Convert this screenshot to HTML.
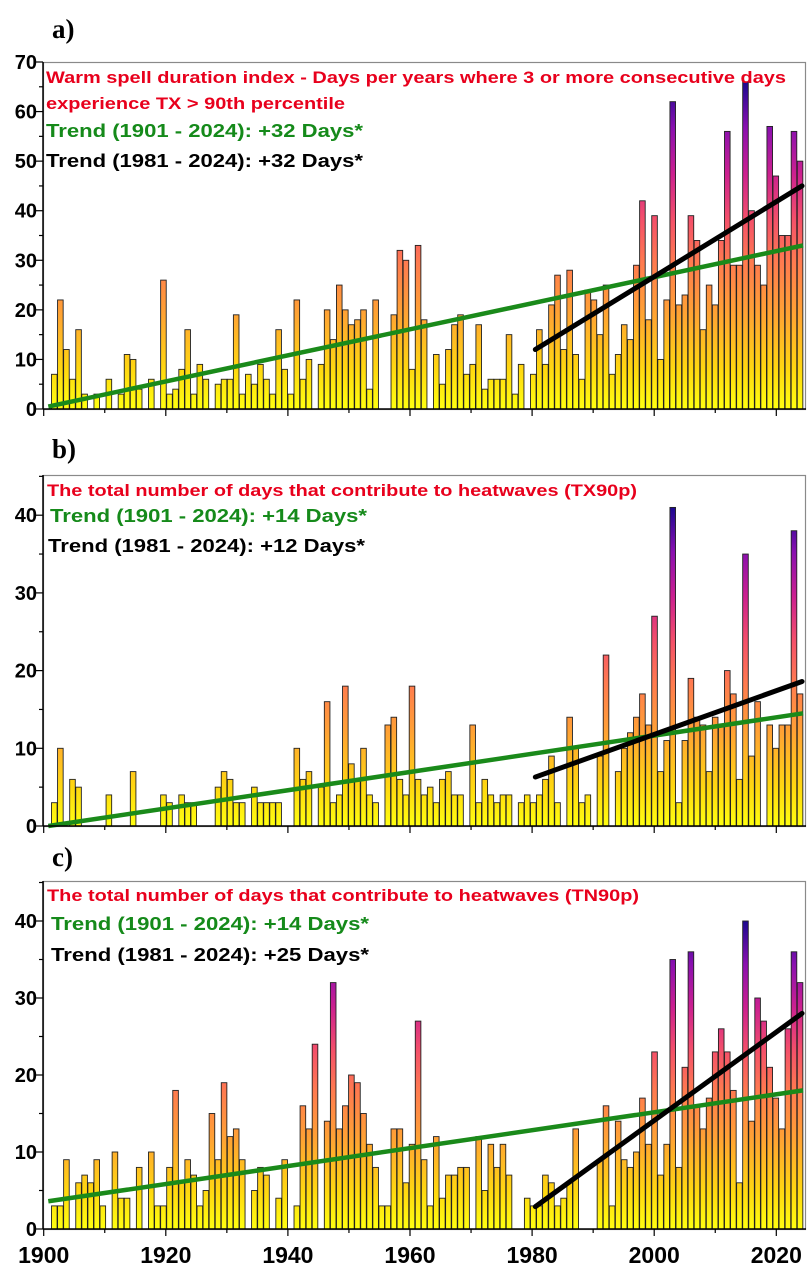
<!DOCTYPE html>
<html><head><meta charset="utf-8">
<style>
html,body{margin:0;padding:0;background:#fff;}
svg{display:block;}
text{font-family:"Liberation Sans",Arial,sans-serif;font-weight:bold;}
.lbl{font-family:"Liberation Serif",serif;font-size:27px;font-weight:bold;}
</style></head>
<body>
<svg id="chart" width="809" height="1266" viewBox="0 0 809 1266" xmlns="http://www.w3.org/2000/svg">
<defs>
<linearGradient id="gA" gradientUnits="userSpaceOnUse" x1="0" y1="409" x2="0" y2="82"></linearGradient>
<linearGradient id="gB" gradientUnits="userSpaceOnUse" x1="0" y1="826" x2="0" y2="507"></linearGradient>
<linearGradient id="gC" gradientUnits="userSpaceOnUse" x1="0" y1="1229" x2="0" y2="921"></linearGradient>
</defs>
<text class="lbl" x="52" y="38">a)</text>
<text class="lbl" x="52" y="458">b)</text>
<text class="lbl" x="52" y="866">c)</text>
<g id="layer"></g>
<g>
<text x="46" y="83" fill="#e8001c" font-size="17" textLength="740" lengthAdjust="spacingAndGlyphs">Warm spell duration index - Days per years where 3 or more consecutive days</text>
<text x="46" y="109" fill="#e8001c" font-size="17" textLength="299" lengthAdjust="spacingAndGlyphs">experience TX &gt; 90th percentile</text>
<text x="46" y="137" fill="#158a1a" font-size="18" textLength="317" lengthAdjust="spacingAndGlyphs">Trend (1901 - 2024): +32 Days*</text>
<text x="46" y="167" fill="#000" font-size="18" textLength="317" lengthAdjust="spacingAndGlyphs">Trend (1981 - 2024): +32 Days*</text>
</g>
<g>
<text x="47" y="496" fill="#e8001c" font-size="17" textLength="590" lengthAdjust="spacingAndGlyphs">The total number of days that contribute to heatwaves (TX90p)</text>
<text x="50" y="522" fill="#158a1a" font-size="18" textLength="317" lengthAdjust="spacingAndGlyphs">Trend (1901 - 2024): +14 Days*</text>
<text x="48" y="552" fill="#000" font-size="18" textLength="317" lengthAdjust="spacingAndGlyphs">Trend (1981 - 2024): +12 Days*</text>
</g>
<g>
<text x="47" y="901" fill="#e8001c" font-size="17" textLength="592" lengthAdjust="spacingAndGlyphs">The total number of days that contribute to heatwaves (TN90p)</text>
<text x="51" y="930" fill="#158a1a" font-size="18" textLength="318" lengthAdjust="spacingAndGlyphs">Trend (1901 - 2024): +14 Days*</text>
<text x="51" y="961" fill="#000" font-size="18" textLength="318" lengthAdjust="spacingAndGlyphs">Trend (1981 - 2024): +25 Days*</text>
</g>
</svg>
<script>
const firstYear = 1901;
const valuesA = [7,22,12,6,16,3,0,3,0,6, 0,3,11,10,4,0,6,0,26,3, 4,8,16,3,9,6,0,5,6,6, 19,3,7,5,9,6,3,16,8,3,
 22,6,10,0,9,20,14,25,20,17, 18,20,4,22,0,0,19,32,30,8, 33,18,0,11,5,12,17,19,7,9, 17,4,6,6,6,15,3,9,0,7,
 16,9,21,27,12,28,11,6,24,22, 15,25,7,11,17,14,29,42,18,39, 10,22,62,21,23,39,34,16,25,21, 34,56,29,29,66,40,29,25,57,47, 35,35,56,50];
const valuesB = [3,10,0,6,5,0,0,0,0,4, 0,0,0,7,0,0,0,0,4,3, 0,4,3,3,0,0,0,5,7,6, 3,3,0,5,3,3,3,3,0,0,
 10,6,7,0,5,16,3,4,18,8, 6,10,4,3,0,13,14,6,4,18, 6,4,5,3,6,7,4,4,0,13, 3,6,4,3,4,4,0,3,4,3,
 4,6,9,3,0,14,10,3,4,0, 9,22,0,7,10,12,14,17,13,27, 7,11,41,3,11,19,14,13,7,14, 13,20,17,6,35,9,16,0,13,10, 13,13,38,17];
const valuesC = [3,3,9,0,6,7,6,9,3,0, 10,4,4,0,8,0,10,3,3,8, 18,6,9,7,3,5,15,9,19,12, 13,9,0,5,8,7,0,4,9,0,
 3,16,13,24,0,14,32,13,16,20, 19,15,11,8,3,3,13,13,6,11, 27,9,3,12,4,7,7,8,8,0, 12,5,11,8,11,7,0,0,4,3,
 3,7,6,3,4,6,13,0,0,0, 9,16,3,14,9,8,10,17,11,23, 7,11,35,8,21,36,16,13,17,23, 26,23,18,6,40,14,30,27,21,17, 13,26,36,32];
const trendGreenA = [0.5, 33];
const trendBlackA = [12, 45];
const trendGreenB = [0, 14.5];
const trendBlackB = [6.3, 18.6];
const trendGreenC = [3.6, 18];
const trendBlackC = [2.9, 28];
const trendYearsGreen = [1901, 2024];
const trendYearsBlack = [1981, 2024];
const yTicksA = [0,10,20,30,40,50,60,70];
const yTicksBC = [0,10,20,30,40];
const xTickYears = [1900,1920,1940,1960,1980,2000,2020];

const NS = "http://www.w3.org/2000/svg";
const layer = document.getElementById('layer');
const stops = [[0,'#ffff10'],[0.12,'#ffd810'],[0.3,'#ffa035'],[0.45,'#ff7a50'],[0.58,'#f4506a'],[0.72,'#cc2090'],[0.86,'#8a10b0'],[1,'#1c0890']];
['gA','gB','gC'].forEach(id=>{
  const g=document.getElementById(id);
  stops.forEach(s=>{const st=document.createElementNS(NS,'stop');st.setAttribute('offset',s[0]);st.setAttribute('stop-color',s[1]);g.appendChild(st);});
});
function xBar(year){ return 54.3 + (year-firstYear)*6.063; }
function xTick(year){ return 43.7 + (year-1900)*6.105; }
function mk(tag, attrs){ const e=document.createElementNS(NS,tag); for(const k in attrs) e.setAttribute(k, attrs[k]); layer.appendChild(e); return e; }

const panels = [
 {id:'a', vals:valuesA, y0:409, top:62, ppu:(409-62)/70, grad:'gA', max:66, ticks:yTicksA, gT:trendGreenA, bT:trendBlackA},
 {id:'b', vals:valuesB, y0:826, top:475, ppu:7.77, grad:'gB', max:41, ticks:yTicksBC, gT:trendGreenB, bT:trendBlackB},
 {id:'c', vals:valuesC, y0:1229, top:881, ppu:7.7, grad:'gC', max:40, ticks:yTicksBC, gT:trendGreenC, bT:trendBlackC}
];
panels.forEach(p=>{
  const yS = v => p.y0 - v*p.ppu;
  document.getElementById(p.grad).setAttribute('y2', yS(p.max));
  const fr = mk('rect',{x:43.5,y:p.top+0.5,width:762,height:p.y0-p.top,fill:'none',stroke:'#8a8a8a','stroke-width':1.2});
  
  
  p.vals.forEach((v,i)=>{
    if(v<=0) return;
    const yr = firstYear+i;
    const r = mk('rect',{x:xBar(yr)-2.8,y:yS(v),width:5.6,height:v*p.ppu,fill:'url(#'+p.grad+')',stroke:'#222','stroke-width':0.9});
    
    
  });
  const gl = mk('line',{x1:xBar(trendYearsGreen[0])-6,y1:yS(p.gT[0]),x2:xBar(trendYearsGreen[1])+3,y2:yS(p.gT[1]),stroke:'#1a8a1a','stroke-width':4.5});
  
  
  const bl = mk('line',{x1:xBar(trendYearsBlack[0])-4,y1:yS(p.bT[0]),x2:xBar(trendYearsBlack[1])+2,y2:yS(p.bT[1]),stroke:'#000','stroke-width':5,'stroke-linecap':'round'});
  
  
  const ya = mk('line',{x1:43,y1:p.top,x2:43,y2:p.y0,stroke:'#000','stroke-width':1.5});
  
  
  const xa = mk('line',{x1:43,y1:p.y0,x2:806,y2:p.y0,stroke:'#000','stroke-width':1.5});
  
  
  const tmax = p.ticks[p.ticks.length-1];
  for(let v=0; v<=tmax+5 && yS(v)>=p.top; v+=5){
    const major = v%10===0;
    const t = mk('line',{x1:major?36:39,y1:yS(v),x2:43,y2:yS(v),stroke:'#000','stroke-width':1.2});
    
    
  }
  p.ticks.forEach(v=>{
    const t = mk('text',{x:37,y:yS(v)+7,'text-anchor':'end','font-size':20,fill:'#000'});
    t.textContent = v;
    
    
  });
  for(let yr=1900; yr<=2020; yr+=10){
    const major = yr%20===0;
    const t = mk('line',{x1:xTick(yr),y1:p.y0,x2:xTick(yr),y2:p.y0+(major?7:4),stroke:'#000','stroke-width':1.2});
    
    
  }
});
xTickYears.forEach(yr=>{
  const t = mk('text',{x:xTick(yr),y:1263,'text-anchor':'middle','font-size':23,fill:'#000'});
  t.textContent = yr;
  
  
});
</script>
</body></html>
